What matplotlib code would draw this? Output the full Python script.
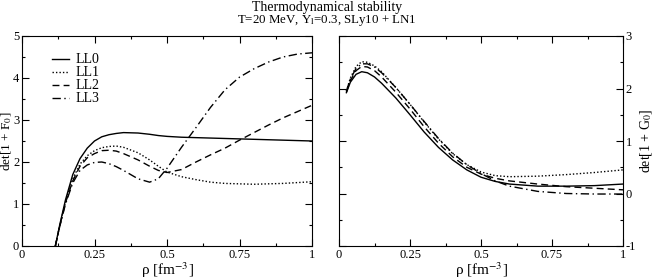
"""
Thermodynamical stability - det[1 + F0] and det[1 + G0] vs density
"""

import matplotlib
matplotlib.use("Agg")
import matplotlib.pyplot as plt
from matplotlib.ticker import MultipleLocator, FixedLocator

plt.rcParams["font.family"] = ["Liberation Serif", "DejaVu Serif"]
plt.rcParams["mathtext.fontset"] = "stix"
plt.rcParams["axes.unicode_minus"] = False

# ── Data: left panel, det[1 + F0] ───────────────────────────────
labels = ["LL0", "LL1", "LL2", "LL3"]

rho_f0 = [0.115, 0.13, 0.15, 0.175, 0.2, 0.225, 0.25, 0.275, 0.3, 0.325,
          0.35, 0.4, 0.44, 0.47, 0.5, 0.55, 0.6, 0.65, 0.7, 0.75,
          0.8, 0.85, 0.9, 0.95, 1.0]
f0_ll0 = [0.0, 0.5, 1.1, 1.7, 2.08, 2.33, 2.5, 2.6, 2.65, 2.68,
          2.7, 2.69, 2.66, 2.63, 2.61, 2.59, 2.58, 2.57, 2.56, 2.55,
          2.54, 2.53, 2.52, 2.51, 2.5]
f0_ll1 = [0.0, 0.48, 1.05, 1.6, 1.95, 2.15, 2.27, 2.34, 2.37, 2.38,
          2.35, 2.22, 2.05, 1.9, 1.76, 1.65, 1.58, 1.52, 1.49, 1.48,
          1.47, 1.48, 1.49, 1.51, 1.53]
f0_ll2 = [0.0, 0.47, 1.03, 1.55, 1.9, 2.1, 2.2, 2.27, 2.28, 2.26,
          2.2, 2.05, 1.9, 1.8, 1.75, 1.82, 2.0, 2.17, 2.33, 2.52,
          2.7, 2.88, 3.05, 3.2, 3.35]
f0_ll3 = [0.0, 0.46, 1.0, 1.5, 1.8, 1.93, 1.99, 2.0, 1.96, 1.89,
          1.8, 1.6, 1.52, 1.6, 1.85, 2.35, 2.82, 3.3, 3.72, 4.02,
          4.22, 4.38, 4.5, 4.57, 4.6]

# ── Data: right panel, det[1 + G0] ──────────────────────────────
rho_g0 = [0.026, 0.04, 0.06, 0.08, 0.1, 0.125, 0.15, 0.2, 0.25, 0.3,
          0.35, 0.4, 0.45, 0.5, 0.55, 0.6, 0.7, 0.8, 0.9, 1.0]
g0_ll0 = [1.92, 2.12, 2.27, 2.32, 2.3, 2.22, 2.1, 1.82, 1.5, 1.17,
          0.88, 0.64, 0.45, 0.31, 0.23, 0.18, 0.14, 0.14, 0.15, 0.18]
g0_ll1 = [1.95, 2.2, 2.42, 2.51, 2.5, 2.43, 2.32, 2.02, 1.7, 1.36,
          1.04, 0.76, 0.55, 0.41, 0.34, 0.32, 0.33, 0.36, 0.4, 0.45]
g0_ll2 = [1.93, 2.15, 2.34, 2.42, 2.41, 2.34, 2.22, 1.93, 1.61, 1.27,
          0.96, 0.7, 0.5, 0.37, 0.29, 0.24, 0.18, 0.13, 0.1, 0.07]
g0_ll3 = [1.95, 2.18, 2.38, 2.47, 2.47, 2.41, 2.3, 2.02, 1.7, 1.37,
          1.05, 0.77, 0.55, 0.38, 0.24, 0.14, 0.04, 0.0, -0.01, -0.01]

x_ticks = [0, 0.25, 0.5, 0.75, 1]
x_ticklabels = ["0", "0.25", "0.5", "0.75", "1"]
yL_ticks = [0, 1, 2, 3, 4, 5]
yR_ticks = [-1, 0, 1, 2, 3]

styles = ["-", (0, (1, 1.5)), (0, (5, 3)), (0, (6, 2.5, 1, 2.5))]

# ── Figur ────────────────────────────────────────────────────────
fig = plt.figure(figsize=(6.54, 2.79), dpi=100)
axL = fig.add_axes([22 / 654, 33 / 279, 290 / 654, 210 / 279])
axR = fig.add_axes([339 / 654, 33 / 279, 284 / 654, 210 / 279])

for ys, ls, lab in zip([f0_ll0, f0_ll1, f0_ll2, f0_ll3], styles, labels):
    axL.plot(rho_f0, ys, color="black", lw=1.0, ls=ls, label=lab)
for ys, ls in zip([g0_ll0, g0_ll1, g0_ll2, g0_ll3], styles):
    axR.plot(rho_g0, ys, color="black", lw=1.0, ls=ls)

for ax in (axL, axR):
    ax.set_xlim(0, 1)
    ax.xaxis.set_major_locator(FixedLocator(x_ticks))
    ax.set_xticklabels(x_ticklabels)
    ax.xaxis.set_minor_locator(MultipleLocator(0.125))
    ax.yaxis.set_minor_locator(MultipleLocator(0.5))
    ax.tick_params(which="both", direction="in", top=True, right=True,
                   labelsize=9, pad=2, width=0.8)
    ax.tick_params(which="major", length=5)
    ax.tick_params(which="minor", length=2.5)
    for s in ax.spines.values():
        s.set_linewidth(0.8)
    ax.set_xlabel("ρ [fm$^{-3}$]", fontsize=11, labelpad=0)

axL.set_ylim(0, 5)
axL.yaxis.set_major_locator(FixedLocator(yL_ticks))
axL.set_yticklabels([str(v) for v in yL_ticks])
axL.set_ylabel("det[1 + F$_0$]", fontsize=9.5)
axL.yaxis.set_label_coords(-8 / 290, 0.5)

axR.set_ylim(-1, 3)
axR.yaxis.set_major_locator(FixedLocator(yR_ticks))
axR.set_yticklabels([str(v) for v in yR_ticks])
axR.tick_params(which="both", labelleft=False, labelright=True)
axR.yaxis.set_label_position("right")
axR.set_ylabel("det[1 + G$_0$]", fontsize=10, labelpad=1)

axL.legend(loc="upper left", bbox_to_anchor=(0.08, 0.95), frameon=False,
           fontsize=10, handlelength=1.2, handletextpad=0.5,
           labelspacing=0.0, borderpad=0)

fig.text(0.5, 1 - 8 / 279, "Thermodynamical stability",
         ha="center", va="center", fontsize=10)
fig.text(0.5, 1 - 21 / 279, "T=20 MeV, Y$_\\mathrm{l}$=0.3, SLy10 + LN1",
         ha="center", va="center", fontsize=9.3)

fig.savefig("out.png", dpi=100, facecolor="white")
plt.close()
